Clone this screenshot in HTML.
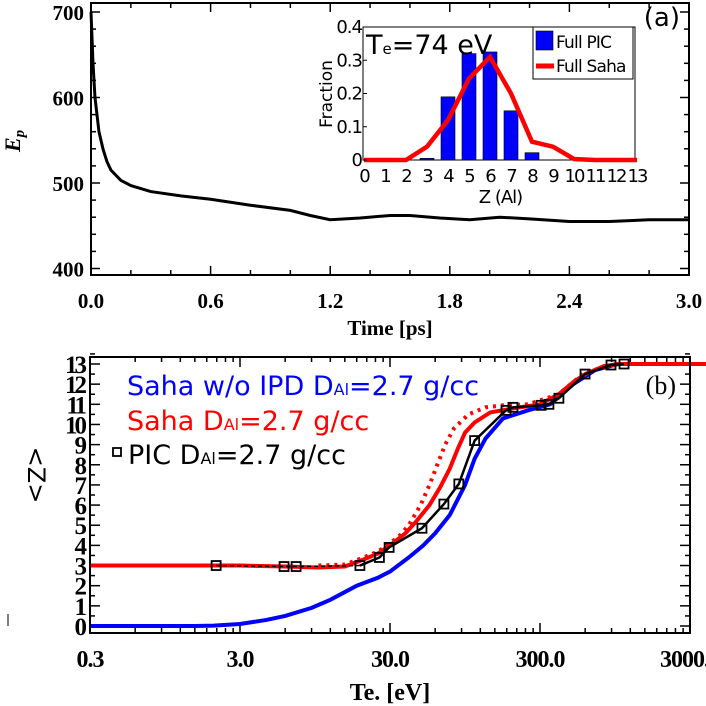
<!DOCTYPE html>
<html><head><meta charset="utf-8"><style>
body{margin:0;background:#fff}
svg{display:block}
.ser{font-family:"Liberation Serif",serif;font-weight:bold}
.serN{font-family:"Liberation Serif",serif}
.san{font-family:"DejaVu Sans","Liberation Sans",sans-serif}
</style></head><body>
<svg id="c" width="706" height="706" viewBox="0 0 706 706" xmlns="http://www.w3.org/2000/svg"></svg>
<script>
// ---- data ----
const epTime=[0,0.01,0.02,0.04,0.06,0.08,0.1,0.15,0.2,0.3,0.45,0.6,0.8,1.0,1.1,1.2,1.35,1.5,1.6,1.75,1.9,2.05,2.2,2.4,2.6,2.8,3.0];
const epVal=[700,640,600,560,540,525,515,503,497,490,485,481,474,468,462,457,459,462,462,459,457,460,458,455,455,457,457];
const inCats=[0,1,2,3,4,5,6,7,8,9,10,11,12,13];
const picFrac=[0,0,0,0.005,0.19,0.32,0.325,0.148,0.022,0,0,0,0,0];
const sahaFrac=[0,0,0,0.04,0.12,0.245,0.31,0.2,0.055,0.04,0.003,0,0,0];
const sahaTe=[0.3,3,6,10,15,20,25,30,38,45,55,65,75,85,95,110,140,200,300,400,500,600,800,1000,4000];
const sahaZ=[3,3,2.95,2.9,2.95,3.3,3.6,4,4.6,5.2,6.0,6.9,7.8,8.8,9.6,10.1,10.6,10.8,11,11.5,12.1,12.5,12.9,13,13];
const sahaDotTe=[10,15,20,25,30,35,40,48,55,62,70,80,100,130,170,250,400,600,1000];
const sahaDotZ=[3,3.05,3.4,3.7,4.1,4.5,5,6,7,8,9,9.8,10.5,10.85,10.95,11,11.5,12.6,13];
const blueTe=[0.3,1,1.5,2,3,4.5,6,9,12,18,25,30,40,50,60,75,95,110,130,170,250,350,500,700,1000,4000];
const blueZ=[0,0,0,0.02,0.1,0.3,0.5,0.9,1.3,2,2.4,2.7,3.4,4,4.6,5.5,7,8.3,9.3,10.3,10.7,11,12,12.7,13,13];
const picTe=[2.08,5.9,7.1,18.9,25.5,29.6,49,68.6,86.3,110,178,198,305,344,401,599,892,1090];
const picZ=[3,2.95,2.95,3,3.4,3.9,4.85,6.05,7.05,9.2,10.7,10.85,10.95,11,11.3,12.5,12.95,13];
const epTicks=[400,500,600,700];
const tTicks=[0,0.6,1.2,1.8,2.4,3.0];
const zTicks=[0,1,2,3,4,5,6,7,8,9,10,11,12,13];
const teTicks=[0.3,3,30,300,3000];
const fracTicks=[0,0.1,0.2,0.3,0.4];

const NS="http://www.w3.org/2000/svg";
const svg=document.getElementById('c');
function mk(tag,at,parent){const e=document.createElementNS(NS,tag);for(const k in at)e.setAttribute(k,at[k]);(parent||svg).appendChild(e);return e;}
function txt(s,x,y,at){const e=mk('text',Object.assign({x:x,y:y},at));e.textContent=s;return e;}

// ---- top panel ----
const A={l:91,r:689,t:3,b:275};
const tx=t=>A.l+t/3*(A.r-A.l);
const ey=v=>183-(v-500)*0.855;
for(let t=0;t<=3.0001;t+=0.2){const x=tx(t);const big=Math.abs(t/0.6-Math.round(t/0.6))<1e-6;const L=big?9:5;
 let e=mk('line',{x1:x,x2:x,y1:A.b,y2:A.b-L,stroke:'#000','stroke-width':1.5});
 e=mk('line',{x1:x,x2:x,y1:A.t,y2:A.t+L,stroke:'#000','stroke-width':1.5});}
for(let v=400;v<=710;v+=20){const y=ey(v);if(y<A.t||y>A.b)continue;const L=v%100==0?9:5;
 let e=mk('line',{x1:A.l,x2:A.l+L,y1:y,y2:y,stroke:'#000','stroke-width':1.5});
 e=mk('line',{x1:A.r,x2:A.r-L,y1:y,y2:y,stroke:'#000','stroke-width':1.5});}
epTicks.forEach(v=>{const e=txt(v,84,ey(v)+8,{'text-anchor':'end','font-size':21,class:'ser'});});
tTicks.forEach(t=>{const e=txt(t.toFixed(1),tx(t),308,{'text-anchor':'middle','font-size':21,class:'ser'});});
let e;
e=mk('polyline',{points:epTime.map((t,i)=>tx(t)+','+ey(epVal[i])).join(' '),fill:'none',stroke:'#000','stroke-width':3});

e=mk('rect',{x:A.l,y:A.t,width:A.r-A.l,height:A.b-A.t,fill:'none',stroke:'#000','stroke-width':2});

e=txt('Time [ps]',A.l+(A.r-A.l)/2,335,{'text-anchor':'middle','font-size':21,class:'ser'});

e=txt('E',0,0,{'font-size':22,class:'ser','font-style':'italic',transform:'translate(20,152) rotate(-90)'});
const sub=document.createElementNS(NS,'tspan');sub.setAttribute('font-size',15);sub.setAttribute('dy',4);sub.textContent='p';e.appendChild(sub);

e=txt('(a)',680,26,{'text-anchor':'end','font-size':26,class:'san'});


// ---- inset ----
const I={l:363,r:635,t:27,b:160};
const ix=c=>364+c*21;
const iy=f=>I.b-f/0.4*(I.b-I.t);
e=mk('rect',{x:I.l,y:I.t,width:I.r-I.l,height:I.b-I.t,fill:'#fff',stroke:'#000','stroke-width':1});

inCats.forEach((c,i)=>{if(picFrac[i]<=0)return;const b=mk('rect',{x:ix(c)-7,y:iy(picFrac[i]),width:14,height:iy(0)-iy(picFrac[i]),fill:'#0000ff',stroke:'#000','stroke-width':0.6});
 });
e=mk('polyline',{points:inCats.map((c,i)=>ix(c)+','+iy(sahaFrac[i])).join(' '),fill:'none',stroke:'#ff0000','stroke-width':4.5});

fracTicks.forEach(f=>{const t=txt(f===0?'0':f.toFixed(1),I.l-1,iy(f)+6,{'text-anchor':'end','font-size':18,class:'san','letter-spacing':'-1'});
 const l=mk('line',{x1:I.l,x2:I.l+4,y1:iy(f),y2:iy(f),stroke:'#000'});});
inCats.forEach(c=>{const t=txt(c,ix(c),182,{'text-anchor':'middle','font-size':18,class:'san','letter-spacing':'-2'});});
e=txt('Z (Al)',ix(6.5),203,{'text-anchor':'middle','font-size':18,class:'san','letter-spacing':'-1'});

e=txt('Fraction',0,0,{'text-anchor':'middle','font-size':17,class:'san',transform:'translate(332,94) rotate(-90)'});

e=txt('T',366,54,{'font-size':27,class:'san'});
const ts=document.createElementNS(NS,'tspan');ts.setAttribute('font-size',15);ts.textContent='e';e.appendChild(ts);
const ts2=document.createElementNS(NS,'tspan');ts2.textContent='=74 eV';e.appendChild(ts2);

e=mk('rect',{x:533,y:27,width:100,height:52,fill:'#fff',stroke:'#000','stroke-width':1});

e=mk('rect',{x:536,y:31,width:17,height:19,fill:'#0000ff',stroke:'#000','stroke-width':0.6});

e=txt('Full PIC',556,48,{'font-size':17,class:'san','letter-spacing':'-0.8'});

e=mk('line',{x1:536,x2:554,y1:66,y2:66,stroke:'#ff0000','stroke-width':5});

e=txt('Full Saha',556,72,{'font-size':17,class:'san','letter-spacing':'-0.8'});


// ---- bottom panel ----
const B={l:90,r:690,t:357,b:633};
const bx=t=>90+Math.log10(t/0.3)*150;
const by=z=>626-z*(262/13);
for(let d=0.3;d<3000;d*=10){for(let k=1;k<10;k++){const x=bx(d*k);const L=k==1?10:5;
 let l=mk('line',{x1:x,x2:x,y1:B.b,y2:B.b-L,stroke:'#000','stroke-width':1.5});
 l=mk('line',{x1:x,x2:x,y1:B.t,y2:B.t+L,stroke:'#000','stroke-width':1.5});}}
for(let z=0;z<=13.5;z+=0.5){const y=by(z);const L=z%1==0?10:5;
 let l=mk('line',{x1:B.l,x2:B.l+L,y1:y,y2:y,stroke:'#000','stroke-width':1.5});
 l=mk('line',{x1:B.r,x2:B.r-L,y1:y,y2:y,stroke:'#000','stroke-width':1.5});}
zTicks.forEach(z=>{const t=txt(z,84,by(z)+9,{'text-anchor':'end','font-size':25,class:'ser','letter-spacing':'-3'});});
teTicks.forEach(v=>{const t=txt(v.toFixed(1),bx(v),667,{'text-anchor':'middle','font-size':24,class:'ser','letter-spacing':'-1'});});
e=txt('Te. [eV]',390,700,{'text-anchor':'middle','font-size':24,class:'ser'});

e=txt('<Z>',0,0,{'text-anchor':'middle','font-size':24,class:'san',transform:'translate(28,475) rotate(90)'});

e=mk('line',{x1:8,x2:8,y1:614,y2:626,stroke:'#000','stroke-width':1});

const pts=(X,Y)=>X.map((t,i)=>bx(t)+','+by(Y[i])).join(' ');
e=mk('polyline',{points:pts(blueTe,blueZ),fill:'none',stroke:'#0000ff','stroke-width':4});

e=mk('polyline',{points:pts(sahaDotTe,sahaDotZ),fill:'none',stroke:'#ff0000','stroke-width':4,'stroke-dasharray':'3 5'});

e=mk('polyline',{points:pts(sahaTe,sahaZ),fill:'none',stroke:'#ff0000','stroke-width':4});

e=mk('polyline',{points:pts(picTe.slice(0,4),picZ.slice(0,4)),fill:'none',stroke:'#000','stroke-width':1.5,'stroke-dasharray':'4 3'});

e=mk('polyline',{points:pts(picTe.slice(3),picZ.slice(3)),fill:'none',stroke:'#000','stroke-width':2.5});

picTe.forEach((t,i)=>{const m=mk('rect',{x:bx(t)-4.5,y:by(picZ[i])-4.5,width:9,height:9,fill:'none',stroke:'#000','stroke-width':1.8});
 });
e=mk('rect',{x:B.l,y:B.t,width:B.r-B.l,height:B.b-B.t,fill:'none',stroke:'#000','stroke-width':2});

function leg(x,y,col,a,b,name){const t=txt(a,x,y,{'font-size':27,class:'san',fill:col});const s=document.createElementNS(NS,'tspan');s.setAttribute('font-size',16);s.textContent='Al';t.appendChild(s);const s2=document.createElementNS(NS,'tspan');s2.textContent=b;t.appendChild(s2);
 }
leg(127,395,'#0000ff','Saha w/o IPD D','=2.7 g/cc','legend-saha-no-ipd');
leg(127,430,'#ff0000','Saha D','=2.7 g/cc','legend-saha');
leg(128,464,'#000','PIC D','=2.7 g/cc','legend-pic');
e=mk('rect',{x:113,y:448,width:8,height:8,fill:'none',stroke:'#000','stroke-width':1.8});

e=txt('(b)',676,394,{'text-anchor':'end','font-size':26,class:'serN'});

</script>
</body></html>
